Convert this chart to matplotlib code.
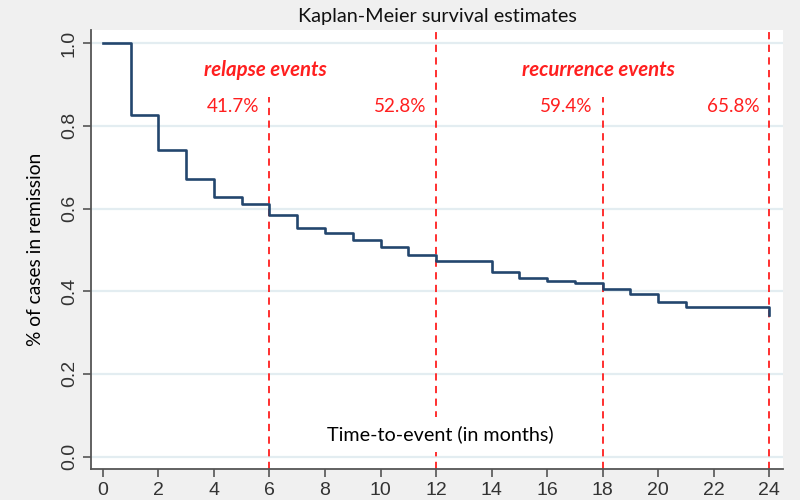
import matplotlib.pyplot as plt

# Kaplan-Meier step values
months = [0, 1, 2, 3, 4, 5, 6, 7, 8, 9, 10, 11, 12, 13, 14, 15, 16, 17, 18, 19, 20, 21, 22, 23, 24]
surv = [1.0, 0.827, 0.742, 0.671, 0.629, 0.611, 0.584, 0.554, 0.540, 0.524, 0.506, 0.488,
        0.473, 0.473, 0.446, 0.432, 0.426, 0.420, 0.405, 0.394, 0.373, 0.363, 0.363, 0.363, 0.342]

cutoffs = [6, 12, 18, 24]
pct_labels = ['41.7%', '52.8%', '59.4%', '65.8%']
full_lines = [False, True, False, True]   # 12 and 24 go up to the top
groups = ['relapse events', 'recurrence events']
group_x = [6, 18]

red = '#ff1f1f'
navy = '#23466e'

fig = plt.figure(figsize=(8, 5), dpi=100, facecolor='#f0f0f0')
ax = fig.add_axes([0.11375, 0.062, 0.865, 0.878])
ax.set_facecolor('white')

ax.set_xlim(-0.43, 24.5)
ax.set_ylim(-0.03, 1.032)

# grid lines
for y in [0.0, 0.2, 0.4, 0.6, 0.8, 1.0]:
    ax.axhline(y, color='#e3edf1', lw=1.6, zorder=0)

# survival curve
ax.step(months, surv, where='post', color=navy, lw=1.9, zorder=3)

# dashed cut-off lines
for x, full in zip(cutoffs, full_lines):
    top = 1.0 if full else 0.847
    ax.axvline(x, ymin=0, ymax=top, color=red, lw=1.3, ls=(0, (4, 3)), zorder=2)

# percentages
for x, lab in zip(cutoffs, pct_labels):
    ax.text(x - 0.35, 0.846, lab, color=red, fontsize=13.6, family='Lato',
            ha='right', va='center', zorder=4)

for x, lab in zip(group_x, groups):
    ax.text(x - 0.15, 0.936, lab, color=red, fontsize=14.7, family='Lato',
            fontweight='bold', style='italic', ha='center', va='center', zorder=4)

ax.text(12.15, 0.053, 'Time-to-event (in months)', color='black', fontsize=14.2,
        family='Lato', ha='center', va='center', zorder=5,
        bbox=dict(facecolor='white', edgecolor='none', pad=6))

ax.set_title('Kaplan-Meier survival estimates', fontsize=14.3, family='Lato',
             color='#111111', pad=6)
ax.set_ylabel('% of cases in remission', fontsize=13.8, family='Lato', labelpad=12)

ax.set_xticks(range(0, 25, 2))
ax.set_yticks([0.0, 0.2, 0.4, 0.6, 0.8, 1.0])
ax.set_yticklabels(['0.0', '0.2', '0.4', '0.6', '0.8', '1.0'], rotation=90, va='center')
ax.tick_params(axis='both', colors='#555555', labelcolor='#333333', labelsize=14,
               length=6, width=1.2)
for lab in ax.get_xticklabels() + ax.get_yticklabels():
    lab.set_family('Liberation Sans')

for s in ['top', 'right']:
    ax.spines[s].set_visible(False)
for s in ['left', 'bottom']:
    ax.spines[s].set_color('#555555')
    ax.spines[s].set_linewidth(1.3)

fig.savefig('out.png', dpi=100, facecolor=fig.get_facecolor())
